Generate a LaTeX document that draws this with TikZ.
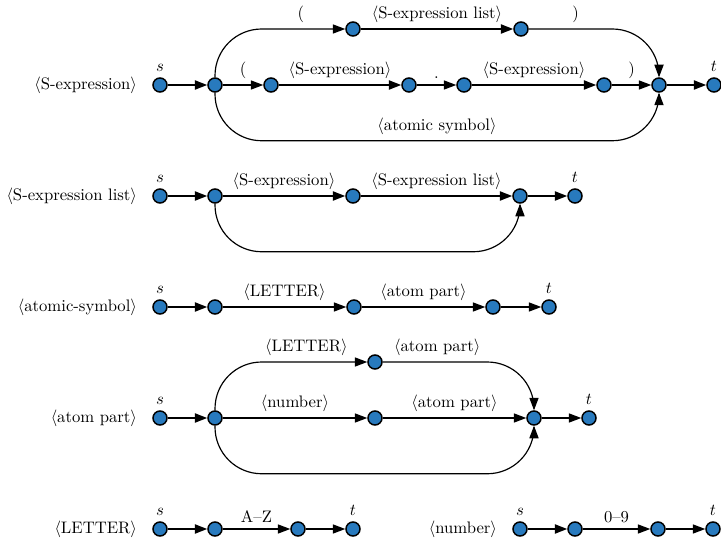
\documentclass[tikz,border=0pt]{standalone}
\usepackage{amsmath}
\usepackage{xcolor}
\usepackage{tikz}
\usetikzlibrary{calc, arrows.meta, positioning}
\definecolor{dotblue}{RGB}{40,122,190}
\newcommand{\synt}[1]{$\langle$#1$\rangle$}

\begin{document}
\begin{tikzpicture}[x=0.6pt, y=0.6pt, >={Triangle[length=7.5pt, width=5.5pt]},
    dot/.style={circle, draw=black, line width=0.9pt, fill=dotblue, inner sep=0pt, minimum size=8.4pt},
    edge/.style={->, line width=0.7pt},
    bedge/.style={->, line width=1.1pt},
    roundbend/.style={rounded corners=28pt},
    lbl/.style={above, inner sep=3.5pt},
    rowname/.style={inner sep=0pt}]
    \useasboundingbox (0,0) rectangle (721,-541);

    % S-expression
    \node[dot, label=above:$s$] (s1) at (160,-85) {};
    \node[dot] (b1) at (215,-85) {};
    \node[dot] (c1) at (271,-85) {};
    \node[dot] (d1) at (409,-85) {};
    \node[dot] (e1) at (464,-85) {};
    \node[dot] (f1) at (604,-85) {};
    \node[dot] (g1) at (659,-85) {};
    \node[dot, label=above:$t$] (t1) at (714,-85) {};
    \node[dot] (u1) at (353,-29) {};
    \node[dot] (v1) at (521,-29) {};
    \node[rowname, left=9pt of s1] (n1) {\synt{S-expression}};
    \draw[bedge] (s1) -- (b1);
    \draw[edge] (b1) -- node[lbl] {(} (c1);
    \draw[bedge] (c1) -- node[lbl] {\synt{S-expression}} (d1);
    \draw[edge] (d1) -- node[lbl] {.} (e1);
    \draw[bedge] (e1) -- node[lbl] {\synt{S-expression}} (f1);
    \draw[edge] (f1) -- node[lbl] {)} (g1);
    \draw[bedge] (g1) -- (t1);
    \draw[edge, roundbend] (b1.north) |- node[lbl, pos=0.83] {(} (u1);
    \draw[bedge] (u1) -- node[lbl] {\synt{S-expression list}} (v1);
    \draw[edge, roundbend] (v1) -| node[lbl, pos=0.18] {)} (g1.north);
    \draw[edge, roundbend] (b1.south) |- node[lbl, pos=0.75] {\synt{atomic symbol}} ($(g1.south)+(0,-48)$) -- (g1.south);

    % S-expression list
    \node[dot, label=above:$s$] (s2) at (160,-196) {};
    \node[dot] (b2) at (215,-196) {};
    \node[dot] (c2) at (353,-196) {};
    \node[dot] (d2) at (520,-196) {};
    \node[dot, label=above:$t$] (t2) at (575,-196) {};
    \node[rowname, left=9pt of s2] (n2) {\synt{S-expression list}};
    \draw[bedge] (s2) -- (b2);
    \draw[bedge] (b2) -- node[lbl] {\synt{S-expression}} (c2);
    \draw[bedge] (c2) -- node[lbl] {\synt{S-expression list}} (d2);
    \draw[bedge] (d2) -- (t2);
    \draw[edge, roundbend] (b2.south) |- ($(d2.south)+(0,-48)$) -- (d2.south);

    % atomic-symbol
    \node[dot, label=above:$s$] (s3) at (160,-307) {};
    \node[dot] (b3) at (215,-307) {};
    \node[dot] (c3) at (354,-307) {};
    \node[dot] (d3) at (493,-307) {};
    \node[dot, label=above:$t$] (t3) at (549,-307) {};
    \node[rowname, left=9pt of s3] (n3) {\synt{atomic-symbol}};
    \draw[bedge] (s3) -- (b3);
    \draw[edge] (b3) -- node[lbl] {\synt{LETTER}} (c3);
    \draw[edge] (c3) -- node[lbl] {\synt{atom part}} (d3);
    \draw[edge] (d3) -- (t3);

    % atom part
    \node[dot, label=above:$s$] (s4) at (160,-418) {};
    \node[dot] (b4) at (215,-418) {};
    \node[dot] (u4) at (375,-362) {};
    \node[dot] (m4) at (375,-418) {};
    \node[dot] (g4) at (534,-418) {};
    \node[dot, label=above:$t$] (t4) at (589,-418) {};
    \node[rowname, left=9pt of s4] (n4) {\synt{atom part}};
    \draw[bedge] (s4) -- (b4);
    \draw[edge, roundbend] (b4.north) |- node[lbl, pos=0.8] {\synt{LETTER}} (u4);
    \draw[edge, roundbend] (u4) -| node[lbl, pos=0.18] {\synt{atom part}} (g4.north);
    \draw[edge] (b4) -- node[lbl] {\synt{number}} (m4);
    \draw[edge] (m4) -- node[lbl] {\synt{atom part}} (g4);
    \draw[edge] (g4) -- (t4);
    \draw[edge, roundbend] (b4.south) |- ($(g4.south)+(0,-48)$) -- (g4.south);

    % LETTER
    \node[dot, label=above:$s$] (s5) at (160,-529) {};
    \node[dot] (b5) at (215,-529) {};
    \node[dot] (c5) at (298,-529) {};
    \node[dot, label=above:$t$] (t5) at (353,-529) {};
    \node[rowname, left=9pt of s5] (n5) {\synt{LETTER}};
    \draw[bedge] (s5) -- (b5);
    \draw[edge] (b5) -- node[lbl] {A--Z} (c5);
    \draw[edge] (c5) -- (t5);

    % number
    \node[dot, label=above:$s$] (s6) at (520,-529) {};
    \node[dot] (b6) at (575,-529) {};
    \node[dot] (c6) at (658,-529) {};
    \node[dot, label=above:$t$] (t6) at (713,-529) {};
    \node[rowname, left=9pt of s6] (n6) {\synt{number}};
    \draw[bedge] (s6) -- (b6);
    \draw[edge] (b6) -- node[lbl] {0--9} (c6);
    \draw[edge] (c6) -- (t6);
\end{tikzpicture}
\end{document}
